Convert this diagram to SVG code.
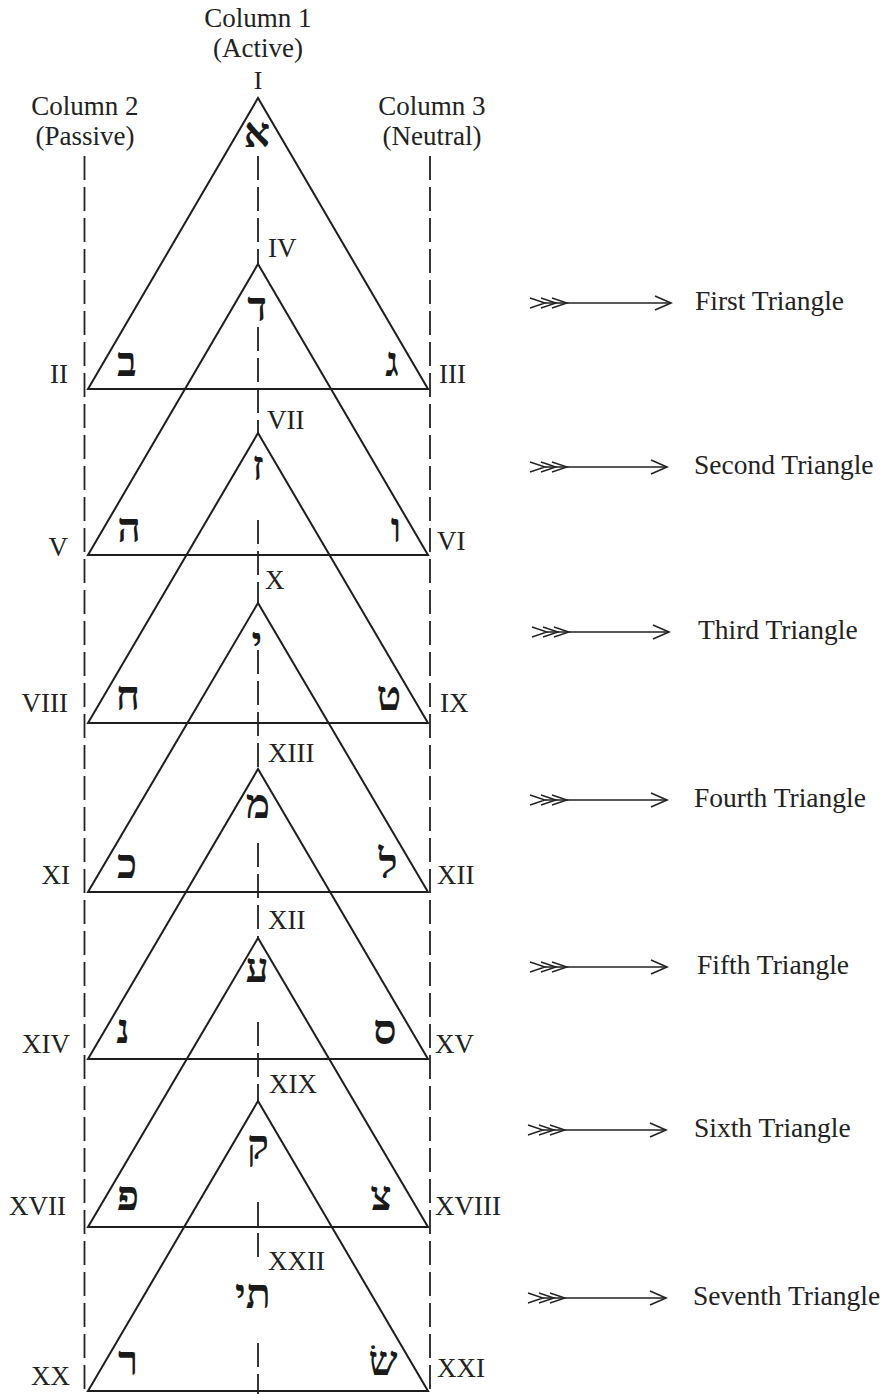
<svg xmlns="http://www.w3.org/2000/svg" width="892" height="1394" viewBox="0 0 892 1394">
<style>
.lbl{font-family:"Liberation Serif","DejaVu Serif",serif;font-size:27px;fill:#222}
.col{text-anchor:middle}
.rl{text-anchor:end}
.top{font-size:26px}
.heb{font-family:"Liberation Serif","DejaVu Sans",serif;font-size:41px;font-weight:bold;fill:#1a1a1a;text-anchor:middle}
.tri{fill:none;stroke:#1e1e1e;stroke-width:2;stroke-linejoin:miter}
.dash{stroke:#222;stroke-width:1.8;stroke-dasharray:24 7;fill:none}
.arr{stroke:#222;stroke-width:1.4;fill:none;marker-start:url(#tail);marker-end:url(#head)}
.tl{font-family:"Liberation Serif","DejaVu Serif",serif;font-size:27.5px;fill:#222}
</style>
<defs>
<marker id="tail" markerUnits="userSpaceOnUse" markerWidth="60" markerHeight="20" refX="0" refY="0" orient="0" overflow="visible">
<path d="M-15,-5 L0,0 L-15,5 M-4,-5 L11,0 L-4,5 M7,-5 L22,0 L7,5" fill="none" stroke="#222" stroke-width="1.4"/>
</marker>
<marker id="head" markerUnits="userSpaceOnUse" markerWidth="30" markerHeight="20" refX="0" refY="0" orient="0" overflow="visible">
<path d="M-16,-7 L0,0 L-16,7" fill="none" stroke="#222" stroke-width="1.6"/>
</marker>
</defs>
<rect width="892" height="1394" fill="#fff"/>

<g id="columns">
<text class="lbl col" x="258" y="27">Column 1</text>
<text class="lbl col" x="258" y="57">(Active)</text>
<text class="lbl col top" x="258" y="89">I</text>
<text class="lbl col" x="85" y="115">Column 2</text>
<text class="lbl col" x="85" y="145">(Passive)</text>
<text class="lbl col" x="432" y="115">Column 3</text>
<text class="lbl col" x="432" y="145">(Neutral)</text>
<line class="dash" x1="84.5" y1="156" x2="84.5" y2="1394"/>
<line class="dash" x1="430" y1="156" x2="430" y2="1394"/>
<line class="dash" x1="258" y1="156" x2="258" y2="264"/>
<line class="dash" x1="258" y1="327" x2="258" y2="433"/>
<line class="dash" x1="258" y1="520" x2="258" y2="603"/>
<line class="dash" x1="258" y1="650" x2="258" y2="769"/>
<line class="dash" x1="258" y1="843" x2="258" y2="938"/>
<line class="dash" x1="258" y1="1022" x2="258" y2="1101"/>
<line class="dash" x1="258" y1="1202" x2="258" y2="1263"/>
<line class="dash" x1="258" y1="1343" x2="258" y2="1394"/>
</g>

<g id="tri1">
<polygon class="tri" points="258,98 88,389 428,389"/>
<text class="heb" x="257" y="147">א</text>
<text class="heb" x="127" y="376">ב</text>
<text class="heb" x="392" y="376">ג</text>
<text class="lbl rl" x="68" y="383">II</text>
<text class="lbl" x="439" y="383">III</text>
</g>

<g id="tri2">
<polygon class="tri" points="258,264 88,555 428,555"/>
<text class="lbl" x="268" y="257">IV</text>
<text class="heb" x="257" y="321">ד</text>
<text class="heb" x="129" y="542">ה</text>
<text class="heb" x="396" y="542">ו</text>
<text class="lbl rl" x="68" y="556">V</text>
<text class="lbl" x="437" y="550">VI</text>
</g>

<g id="tri3">
<polygon class="tri" points="258,433 88,723 428,723"/>
<text class="lbl" x="267" y="429">VII</text>
<text class="heb" x="258" y="480">ז</text>
<text class="heb" x="128" y="710">ח</text>
<text class="heb" x="389" y="710">ט</text>
<text class="lbl rl" x="68" y="712">VIII</text>
<text class="lbl" x="440" y="712">IX</text>
</g>

<g id="tri4">
<polygon class="tri" points="258,603 88,892 428,892"/>
<text class="lbl" x="265" y="589">X</text>
<text class="heb" x="257" y="656">י</text>
<text class="heb" x="127" y="878">כ</text>
<text class="heb" x="388" y="878">ל</text>
<text class="lbl rl" x="70" y="884">XI</text>
<text class="lbl" x="437" y="884">XII</text>
</g>

<g id="tri5">
<polygon class="tri" points="258,769 88,1059 428,1059"/>
<text class="lbl" x="268" y="762">XIII</text>
<text class="heb" x="258" y="818">מ</text>
<text class="heb" x="123" y="1043">נ</text>
<text class="heb" x="385" y="1044">ס</text>
<text class="lbl rl" x="70" y="1053">XIV</text>
<text class="lbl" x="435" y="1053">XV</text>
</g>

<g id="tri6">
<polygon class="tri" points="258,938 88,1227 428,1227"/>
<text class="lbl" x="268" y="929">XII</text>
<text class="heb" x="257" y="982">ע</text>
<text class="heb" x="128" y="1210">פ</text>
<text class="heb" x="381" y="1210">צ</text>
<text class="lbl rl" x="66" y="1215">XVII</text>
<text class="lbl" x="435" y="1215">XVIII</text>
</g>

<g id="tri7">
<polygon class="tri" points="258,1101 88,1391 428,1391"/>
<text class="lbl" x="269" y="1093">XIX</text>
<text class="heb" x="258" y="1159">ק</text>
<text class="heb" x="128" y="1375">ר</text>
<text class="heb" x="383" y="1375">שׂ</text>
<text class="lbl rl" x="70" y="1385">XX</text>
<text class="lbl" x="437" y="1377">XXI</text>
</g>

<g id="tav">
<text class="lbl" x="268" y="1270">XXII</text>
<text class="heb" x="253" y="1308">תי</text>
</g>

<g id="connectors">
<line class="arr" x1="545" y1="303" x2="671" y2="303"/>
<line class="arr" x1="545" y1="467" x2="667" y2="467"/>
<line class="arr" x1="547" y1="632" x2="669" y2="632"/>
<line class="arr" x1="545" y1="800" x2="667" y2="800"/>
<line class="arr" x1="545" y1="967" x2="667" y2="967"/>
<line class="arr" x1="543" y1="1130" x2="666" y2="1130"/>
<line class="arr" x1="543" y1="1298" x2="666" y2="1298"/>
</g>

<g id="labels">
<text class="tl" x="695" y="310">First Triangle</text>
<text class="tl" x="694" y="474">Second Triangle</text>
<text class="tl" x="698" y="639">Third Triangle</text>
<text class="tl" x="694" y="807">Fourth Triangle</text>
<text class="tl" x="697" y="974">Fifth Triangle</text>
<text class="tl" x="694" y="1137">Sixth Triangle</text>
<text class="tl" x="693" y="1305">Seventh Triangle</text>
</g>
</svg>
